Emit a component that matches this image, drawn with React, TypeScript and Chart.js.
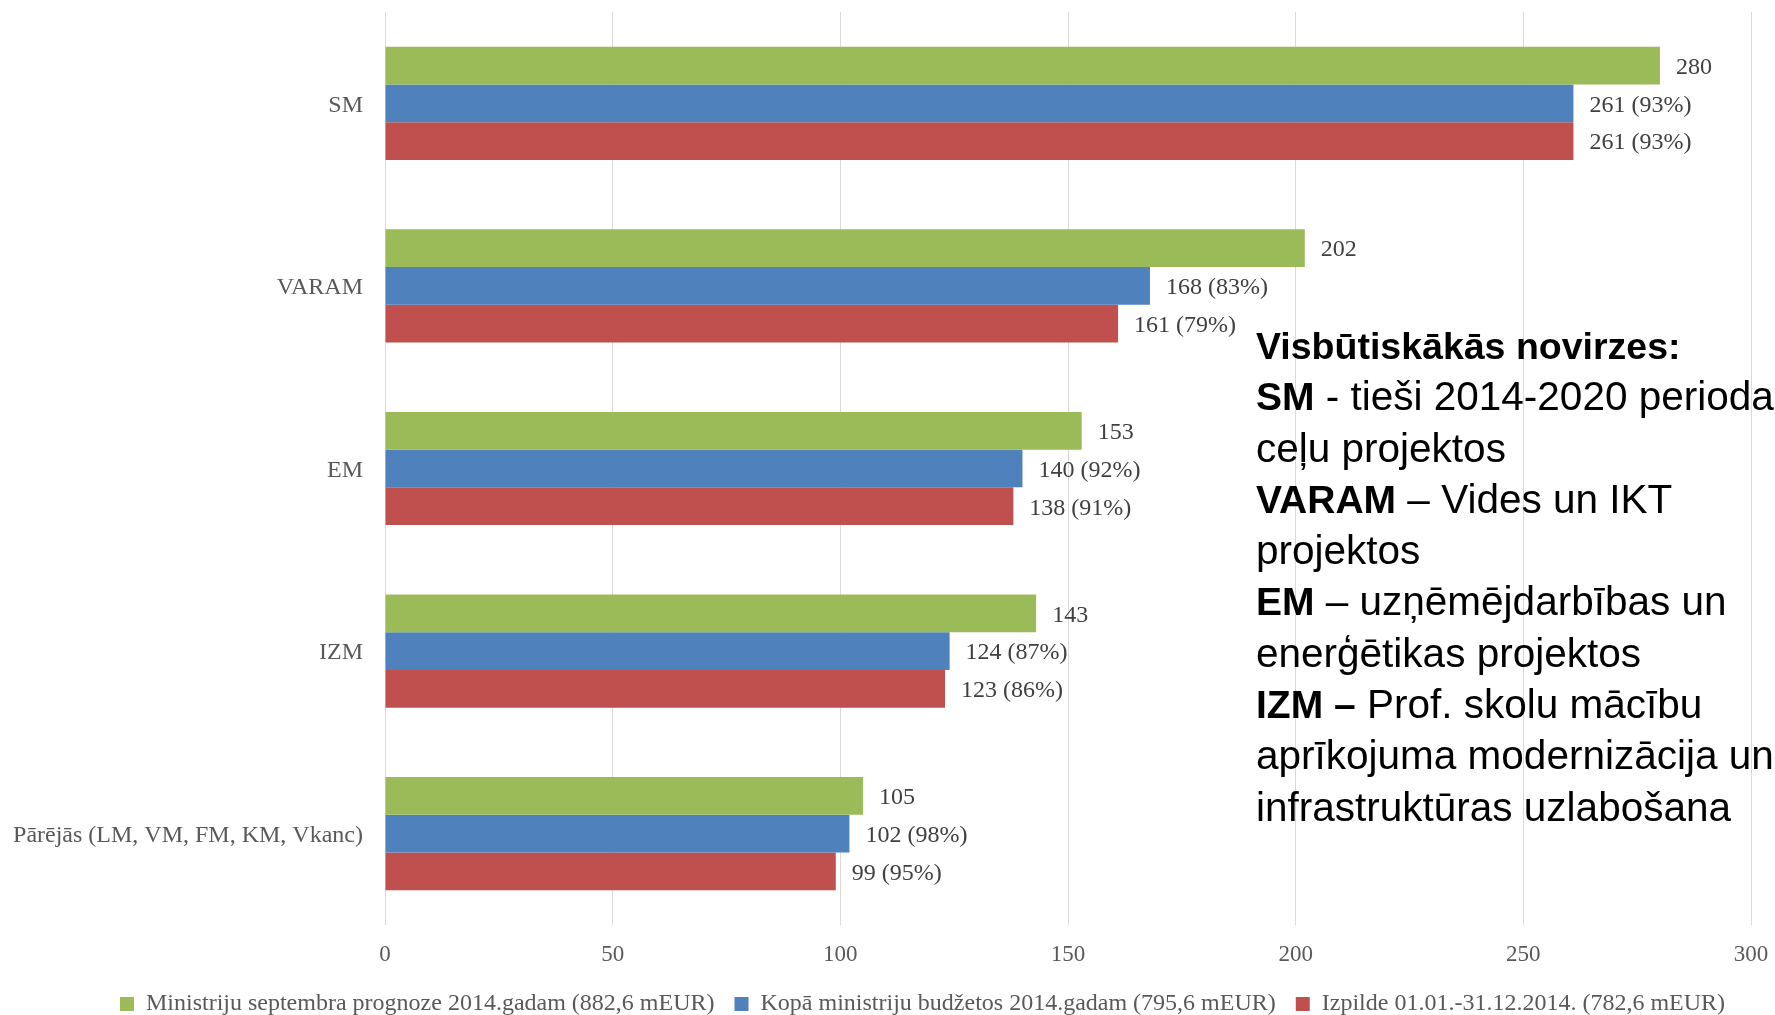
import React, { useEffect, useRef } from "react";
import { Chart, registerables } from "chart.js";

Chart.register(...registerables);

const categories = ["SM", "VARAM", "EM", "IZM", "Pārējās (LM, VM, FM, KM, Vkanc)"];
const forecastValues = [280, 202, 153, 143, 105];
const budgetValues = [261, 168, 140, 124, 102];
const budgetPct = [93, 83, 92, 87, 98];
const executionValues = [261, 161, 138, 123, 99];
const executionPct = [93, 79, 91, 86, 95];
const seriesNames = [
  "Ministriju septembra prognoze 2014.gadam (882,6 mEUR)",
  "Kopā ministriju budžetos 2014.gadam (795,6 mEUR)",
  "Izpilde 01.01.-31.12.2014. (782,6 mEUR)",
];
const seriesColors = ["#9BBB59", "#4F81BD", "#C0504D"];
const xTicks = [0, 50, 100, 150, 200, 250, 300];

const forecastLabels = forecastValues.map((v) => String(v));
const budgetLabels = budgetValues.map((v, i) => `${v} (${budgetPct[i]}%)`);
const executionLabels = executionValues.map((v, i) => `${v} (${executionPct[i]}%)`);

const noteLines: { bold?: string; text: string; header?: boolean }[] = [
  { bold: "Visbūtiskākās novirzes:", text: "", header: true },
  { bold: "SM", text: " - tieši 2014-2020 perioda" },
  { text: "ceļu projektos" },
  { bold: "VARAM", text: " – Vides un IKT" },
  { text: "projektos" },
  { bold: "EM", text: " – uzņēmējdarbības un" },
  { text: "enerģētikas projektos" },
  { bold: "IZM –", text: " Prof. skolu mācību" },
  { text: "aprīkojuma modernizācija un" },
  { text: "infrastruktūras uzlabošana" },
];

const SERIF = "'Liberation Serif', 'Times New Roman', serif";

const valueLabelPlugin = {
  id: "valueLabels",
  afterDatasetsDraw(chart: any) {
    const ctx = chart.ctx;
    ctx.save();
    ctx.font = `24px ${SERIF}`;
    ctx.fillStyle = "#404040";
    ctx.textBaseline = "middle";
    ctx.textAlign = "left";
    chart.data.datasets.forEach((ds: any, di: number) => {
      const meta = chart.getDatasetMeta(di);
      meta.data.forEach((el: any, i: number) => {
        ctx.fillText(ds.valueLabels[i], el.x + 16, el.y + 2);
      });
    });
    ctx.restore();
  },
};

// shift the legend row so it is centred like in the reference slide
const legendShiftPlugin = {
  id: "legendShift",
  afterLayout(chart: any) {
    const lg = chart.legend;
    if (lg) {
      lg.left += 47;
      lg.right += 47;
    }
  },
};

export default function App() {
  const canvasRef = useRef<HTMLCanvasElement | null>(null);

  useEffect(() => {
    if (!canvasRef.current) return;
    const chart = new Chart(canvasRef.current, {
      type: "bar",
      data: {
        labels: categories,
        datasets: [
          { label: seriesNames[0], data: forecastValues, backgroundColor: seriesColors[0], borderWidth: 0, valueLabels: forecastLabels } as any,
          { label: seriesNames[1], data: budgetValues, backgroundColor: seriesColors[1], borderWidth: 0, valueLabels: budgetLabels } as any,
          { label: seriesNames[2], data: executionValues, backgroundColor: seriesColors[2], borderWidth: 0, valueLabels: executionLabels } as any,
        ],
      },
      options: {
        indexAxis: "y",
        responsive: false,
        animation: false,
        devicePixelRatio: 1,
        layout: { padding: { left: 0, right: 24, top: 12, bottom: 0 } },
        datasets: { bar: { categoryPercentage: 0.62, barPercentage: 1 } },
        scales: {
          x: {
            min: 0,
            max: 300,
            afterBuildTicks: (scale: any) => {
              scale.ticks = xTicks.map((v) => ({ value: v }));
            },
            afterFit: (scale: any) => {
              scale.height = 47;
              scale.paddingLeft = 0;
              scale.paddingRight = 0;
            },
            grid: { color: "#D9D9D9", lineWidth: 1, drawTicks: false },
            border: { display: false },
            ticks: { padding: 16, color: "#595959", font: { family: SERIF, size: 23 } },
          },
          y: {
            afterFit: (scale: any) => {
              scale.width = 385;
              scale.paddingTop = 0;
              scale.paddingBottom = 0;
            },
            grid: { display: false, drawTicks: false },
            border: { display: false },
            ticks: { padding: 22, labelOffset: 2, color: "#595959", font: { family: SERIF, size: 24 } },
          },
        },
        plugins: {
          legend: {
            position: "bottom",
            labels: {
              boxWidth: 14,
              boxHeight: 14,
              padding: 20,
              color: "#595959",
              font: { family: SERIF, size: 24 },
            },
          },
          tooltip: { enabled: false },
        },
      } as any,
      plugins: [valueLabelPlugin, legendShiftPlugin],
    });
    return () => chart.destroy();
  }, []);

  return (
    <div
      style={{
        position: "absolute",
        left: 0,
        top: 0,
        width: 1775,
        height: 1015,
        overflow: "hidden",
        background: "#ffffff",
      }}
    >
      <canvas ref={canvasRef} width={1775} height={1026} style={{ display: "block", width: 1775, height: 1026 }} />
      <div
        style={{
          position: "absolute",
          left: 1256,
          top: 320,
          whiteSpace: "nowrap",
          fontFamily: "'Liberation Sans', Arial, sans-serif",
          fontSize: 40.5,
          color: "#000000",
        }}
      >
        {noteLines.map((ln, i) => (
          <div key={i} style={{ height: 51.3, lineHeight: "51.3px" }}>
            {ln.bold ? (
              <span style={{ fontWeight: 700, fontSize: ln.header ? 37.5 : 39 }}>{ln.bold}</span>
            ) : null}
            {ln.text}
          </div>
        ))}
      </div>
    </div>
  );
}
